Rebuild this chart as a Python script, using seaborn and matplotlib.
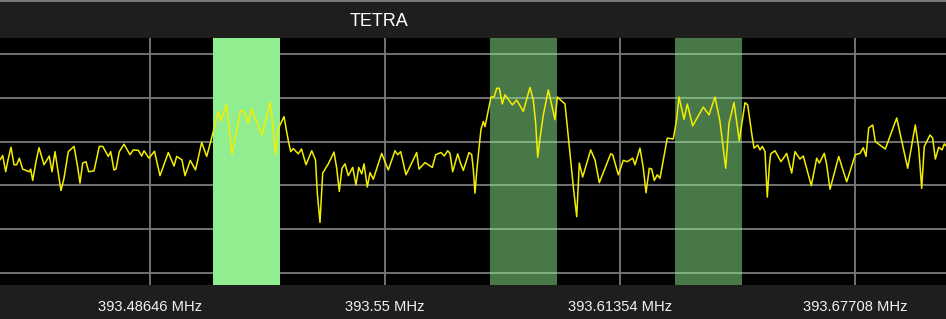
import numpy as np
import pandas as pd
import matplotlib
matplotlib.use("Agg")
import matplotlib.pyplot as plt
from matplotlib.lines import Line2D
import seaborn as sns

# ---- data -------------------------------------------------------------
title = "TETRA"
tick_freqs = [393.48646, 393.55, 393.61354, 393.67708]
tick_labels = ["393.48646 MHz", "393.55 MHz", "393.61354 MHz", "393.67708 MHz"]

# channel highlight bands (centre MHz, width MHz, highlight state)
band_centers = [393.5125, 393.5875, 393.6375]
band_width = 0.018
band_selected = [True, False, False]

freq_mhz = [
    393.44590, 393.44663, 393.44744, 393.44806, 393.44887, 393.44969, 393.45042, 393.45112,
    393.45204, 393.45382, 393.45420, 393.45474, 393.45563, 393.45645, 393.45780, 393.45923,
    393.45996, 393.46077, 393.46139, 393.46239, 393.46320, 393.46437, 393.46591, 393.46680,
    393.46753, 393.46826, 393.46915, 393.46988, 393.47132, 393.47275, 393.47367, 393.47518,
    393.47583, 393.47672, 393.47726, 393.47816, 393.47943, 393.48105, 393.48194, 393.48329,
    393.48421, 393.48484, 393.48619, 393.48767, 393.48916, 393.49141, 393.49295, 393.49368,
    393.49511, 393.49592, 393.49735, 393.49876, 393.50044, 393.50179, 393.50295, 393.50357,
    393.50484, 393.50565, 393.50714, 393.50863, 393.51006, 393.51093, 393.51187, 393.51304,
    393.51390, 393.51674, 393.51890, 393.51963, 393.52039, 393.52120, 393.52269, 393.52385,
    393.52450, 393.52520, 393.52655, 393.52742, 393.52864, 393.53018, 393.53121, 393.53169,
    393.53242, 393.53315, 393.53467, 393.53621, 393.53694, 393.53764, 393.53837, 393.53918,
    393.54007, 393.54126, 393.54216, 393.54289, 393.54370, 393.54432, 393.54521, 393.54594,
    393.54683, 393.54910, 393.55089, 393.55270, 393.55343, 393.55424, 393.55567, 393.55676,
    393.55857, 393.55919, 393.56081, 393.56279, 393.56371, 393.56514, 393.56603, 393.56695,
    393.56757, 393.56830, 393.56965, 393.57028, 393.57117, 393.57271, 393.57344, 393.57387,
    393.57433, 393.57479, 393.57541, 393.57595, 393.57658, 393.57703, 393.57776, 393.57866,
    393.57955, 393.58020, 393.58090, 393.58171, 393.58244, 393.58442, 393.58561, 393.58739,
    393.58920, 393.59009, 393.59074, 393.59128, 393.59191, 393.59280, 393.59415, 393.59507,
    393.59596, 393.59658, 393.59867, 393.59983, 393.60091, 393.60183, 393.60253, 393.60345,
    393.60561, 393.60678, 393.60794, 393.60902, 393.61102, 393.61156, 393.61308, 393.61443,
    393.61551, 393.61697, 393.61759, 393.61894, 393.61984, 393.62057, 393.62146, 393.62211,
    393.62281, 393.62362, 393.62435, 393.62632, 393.62795, 393.62887, 393.62949, 393.63084,
    393.63173, 393.63319, 393.63606, 393.63760, 393.63922, 393.64057, 393.64212, 393.64301,
    393.64436, 393.64579, 393.64733, 393.64806, 393.64914, 393.64977, 393.65077, 393.65139,
    393.65201, 393.65274, 393.65336, 393.65390, 393.65428, 393.65545, 393.65707, 393.65861,
    393.65996, 393.66085, 393.66220, 393.66310, 393.66526, 393.66672, 393.66742, 393.66877,
    393.66942, 393.67032, 393.67267, 393.67483, 393.67716, 393.67843, 393.67932, 393.68005,
    393.68078, 393.68186, 393.68256, 393.68527, 393.68835, 393.69132, 393.69338, 393.69430,
    393.69511, 393.69581, 393.69735, 393.69808, 393.69879, 393.69971, 393.70060, 393.70122,
    393.70168,
]

level_db = [
    -74.2, -73.2, -76.9, -74.2, -71.3, -75.3, -75.3, -73.8,
    -76.3, -76.9, -76.3, -78.9, -74.6, -71.4, -75.3, -73.3,
    -76.9, -72.3, -75.7, -81.2, -78.4, -72.3, -71.1, -75.3,
    -79.5, -74.9, -74.6, -76.9, -76.7, -71.1, -71.1, -73.4,
    -72.3, -76.5, -76.3, -72.3, -70.6, -73.0, -71.9, -72.0,
    -73.3, -72.1, -73.8, -72.2, -77.8, -72.5, -75.6, -73.4,
    -74.2, -77.8, -74.3, -76.5, -70.2, -73.4, -69.7, -67.7,
    -63.1, -65.3, -61.5, -72.9, -66.7, -63.0, -63.0, -65.8,
    -62.5, -68.5, -61.0, -65.8, -73.0, -66.9, -64.3, -69.8,
    -72.3, -71.6, -72.8, -71.7, -75.3, -72.1, -74.2, -81.8,
    -88.5, -77.2, -75.1, -72.4, -76.1, -81.4, -76.1, -75.1,
    -77.8, -75.9, -79.9, -75.9, -77.4, -75.1, -80.4, -77.1,
    -78.6, -72.7, -76.5, -72.1, -73.0, -72.3, -77.6, -75.7,
    -72.5, -76.3, -74.8, -75.9, -73.0, -72.5, -73.3, -72.1,
    -72.7, -76.9, -72.8, -74.6, -76.6, -72.5, -73.0, -76.3,
    -81.8, -76.9, -71.5, -67.2, -65.4, -66.6, -63.5, -59.8,
    -59.7, -57.8, -57.8, -61.4, -59.3, -61.6, -60.5, -63.1,
    -57.6, -60.5, -65.8, -73.6, -69.2, -63.9, -58.2, -61.6,
    -65.0, -59.8, -61.4, -71.1, -80.3, -87.2, -74.9, -78.1,
    -71.9, -74.2, -79.4, -77.1, -72.8, -73.0, -77.6, -74.3,
    -74.6, -73.8, -75.3, -71.5, -76.1, -81.7, -76.1, -76.3,
    -78.9, -77.6, -78.4, -69.2, -69.4, -64.8, -59.8, -64.9,
    -61.4, -66.4, -62.1, -63.9, -59.8, -65.4, -76.1, -65.8,
    -61.1, -69.8, -61.1, -61.6, -68.1, -71.5, -70.8, -71.9,
    -71.1, -72.3, -82.7, -75.7, -72.8, -72.1, -74.6, -72.7,
    -77.2, -72.3, -74.0, -73.3, -80.1, -73.8, -74.9, -72.7,
    -75.3, -80.9, -73.4, -79.2, -73.0, -72.7, -71.4, -73.4,
    -66.9, -66.2, -70.0, -71.7, -64.6, -76.1, -66.2, -71.5,
    -80.7, -71.1, -68.5, -69.2, -74.0, -71.3, -71.9, -70.5,
    -71.0,
]

level_grid = [-50, -60, -70, -80, -90, -100]

# ---- figure -----------------------------------------------------------
sns.set_theme(style="dark")
plt.rcParams["font.family"] = ["Liberation Sans", "DejaVu Sans"]

W, H = 946, 319
fig = plt.figure(figsize=(W / 100, H / 100), dpi=100)
fig.patch.set_facecolor("#1e1e1e")

ax_top = 1 - 38 / H
ax_bot = 1 - 284.5 / H
ax = fig.add_axes([0, ax_bot, 1, ax_top - ax_bot])
ax.set_facecolor("#000000")

df = pd.DataFrame({"freq": freq_mhz, "level": level_db})

# bands
for c, sel in zip(band_centers, band_selected):
    ax.axvspan(c - band_width / 2, c + band_width / 2,
               color="#90ee90", alpha=1.0 if sel else 0.5, lw=0, zorder=1)

sns.lineplot(data=df, x="freq", y="level", ax=ax, color="#f2ee00",
             linewidth=1.1, zorder=3, estimator=None, sort=False)

ax.set_xlim(393.44590, 393.70168)
ax.set_ylim(-102.7, -46.3)

ax.set_xticks(tick_freqs)
ax.set_xticklabels(tick_labels)
ax.set_yticks(level_grid)
ax.set_yticklabels([])
ax.set_axisbelow(True)
ax.grid(True, color="#7a7a7a", linewidth=1.3, zorder=0.5)
ax.tick_params(axis="x", length=0, pad=11, colors="#f2f2f2", labelsize=10.6)
ax.tick_params(axis="y", length=0)
ax.set_xlabel("")
ax.set_ylabel("")
for s in ax.spines.values():
    s.set_visible(False)

# title bar
fig.text(379 / W, 1 - 21.5 / H, title, ha="center", va="center",
         color="#ffffff", fontsize=13)
fig.add_artist(Line2D([0, 1], [1 - 1.2 / H, 1 - 1.2 / H],
                      transform=fig.transFigure, color="#8c8c8c", lw=1.2))

fig.savefig("out.png", dpi=100, facecolor=fig.get_facecolor())
